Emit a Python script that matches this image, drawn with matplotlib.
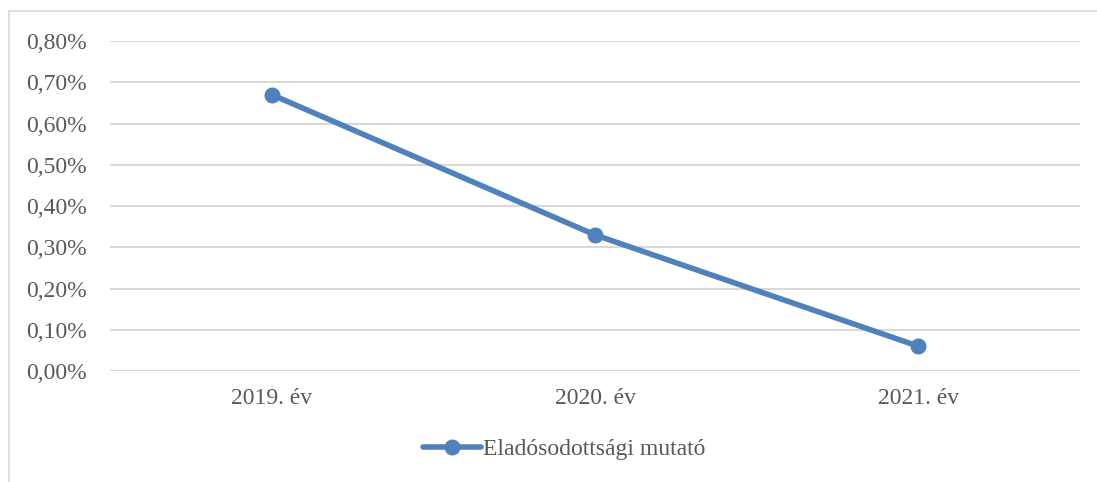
import matplotlib.pyplot as plt
from matplotlib.patches import Rectangle
from matplotlib.ticker import FuncFormatter

years = ["2019. év", "2020. év", "2021. év"]
values = [0.67, 0.33, 0.06]
series_name = "Eladósodottsági mutató"
y_ticks = [0.0, 0.1, 0.2, 0.3, 0.4, 0.5, 0.6, 0.7, 0.8]

blue = "#4F81BD"
grid = "#D9D9D9"
text = "#595959"

plt.rcParams['font.family'] = ['Liberation Serif', 'DejaVu Serif']

fig = plt.figure(figsize=(10.97, 4.82), dpi=100)
ax = fig.add_axes([0.1003, 0.2303, 0.8842, 0.6846])

# chart border (only left and top visible in the crop)
fig.patches.append(Rectangle((9 / 1097, -0.1), 1.2, 1 - 11 / 482 + 0.1,
                             transform=fig.transFigure, fill=False,
                             edgecolor=grid, linewidth=1.2))

x = range(len(years))
ax.plot(x, values, color=blue, linewidth=4, marker="o", markersize=10.5,
        solid_capstyle="round", label=series_name, zorder=3)

ax.set_xlim(-0.5, 2.5)
ax.set_ylim(0, 0.8)
ax.set_yticks(y_ticks)
ax.yaxis.set_major_formatter(FuncFormatter(lambda v, p: f"{v:.2f}%".replace(".", ",")))
ax.set_xticks(list(x))
ax.set_xticklabels(years)
ax.grid(axis="y", color=grid, linewidth=1.5)
ax.set_axisbelow(True)
for s in ax.spines.values():
    s.set_visible(False)
ax.tick_params(axis="both", length=0, labelsize=17, colors=text)
ax.tick_params(axis="y", pad=17)
ax.tick_params(axis="x", pad=12)

leg = ax.legend(loc="center", bbox_to_anchor=(564 / 1097, 1 - 449 / 482),
                bbox_transform=fig.transFigure, frameon=False, fontsize=17,
                handlelength=2.45, handletextpad=0.1)
for t in leg.get_texts():
    t.set_color(text)

fig.savefig("out.png", dpi=100)
